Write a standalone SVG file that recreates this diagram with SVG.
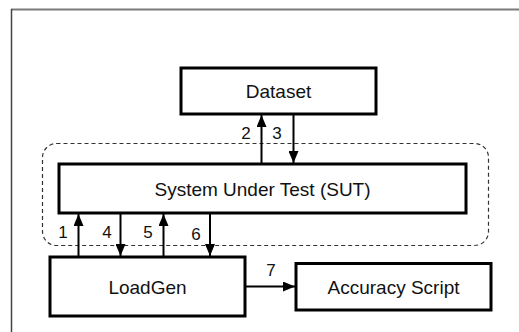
<svg xmlns="http://www.w3.org/2000/svg" width="519" height="332" viewBox="0 0 519 332">
  <style>
    .box { fill: #ffffff; stroke: #000000; stroke-width: 3; }
    .label { font-family: "Liberation Sans", Arial, sans-serif; font-size: 19px; fill: #111111; text-anchor: middle; }
    .num { font-family: "Liberation Sans", Arial, sans-serif; font-size: 17px; fill: #111111; text-anchor: middle; }
    .wire { stroke: #000000; stroke-width: 2; fill: none; marker-end: url(#head); }
  </style>
  <defs>
    <marker id="head" viewBox="0 0 12 10" refX="12" refY="5" markerWidth="12" markerHeight="10" markerUnits="userSpaceOnUse" orient="auto">
      <path d="M0,0 L12,5 L0,10 Z" fill="#000000"/>
    </marker>
  </defs>

  <rect width="519" height="332" fill="#ffffff"/>
  <!-- page frame -->
  <line x1="11" y1="9.5" x2="519" y2="9.5" stroke="#7a7a7a" stroke-width="2"/>
  <line x1="11.5" y1="9" x2="11.5" y2="332" stroke="#444444" stroke-width="1.5"/>

  <!-- SUT boundary -->
  <rect id="sut-boundary" x="42.5" y="143.5" width="446" height="102" rx="14" ry="14" fill="none" stroke="#333333" stroke-width="1.2" stroke-dasharray="4,3"/>

  <g id="dataset">
    <rect class="box" x="181" y="68" width="195" height="46"/>
    <text class="label" x="278.5" y="98">Dataset</text>
  </g>

  <g id="sut">
    <rect class="box" x="59" y="164" width="407" height="49"/>
    <text class="label" x="262.5" y="196">System Under Test (SUT)</text>
  </g>

  <g id="loadgen">
    <rect class="box" x="50" y="257" width="195" height="59"/>
    <text class="label" x="147.5" y="294">LoadGen</text>
  </g>

  <g id="accuracy-script">
    <rect class="box" x="296" y="263.5" width="195" height="46.5"/>
    <text class="label" x="393.5" y="294">Accuracy Script</text>
  </g>

  <g id="connectors">
    <line class="wire" x1="261.5" y1="164" x2="261.5" y2="115"/>
    <line class="wire" x1="293.5" y1="114" x2="293.5" y2="163"/>
    <line class="wire" x1="78.5" y1="257" x2="78.5" y2="214"/>
    <line class="wire" x1="120.5" y1="213" x2="120.5" y2="256"/>
    <line class="wire" x1="163.5" y1="257" x2="163.5" y2="214"/>
    <line class="wire" x1="210" y1="213" x2="210" y2="256"/>
    <line class="wire" x1="245" y1="286.5" x2="295" y2="286.5" stroke-width="2.5"/>
    <text class="num" x="246" y="139">2</text>
    <text class="num" x="277" y="139">3</text>
    <text class="num" x="63" y="238">1</text>
    <text class="num" x="107" y="238">4</text>
    <text class="num" x="148" y="238">5</text>
    <text class="num" x="196" y="240">6</text>
    <text class="num" x="271" y="276">7</text>
  </g>
</svg>
